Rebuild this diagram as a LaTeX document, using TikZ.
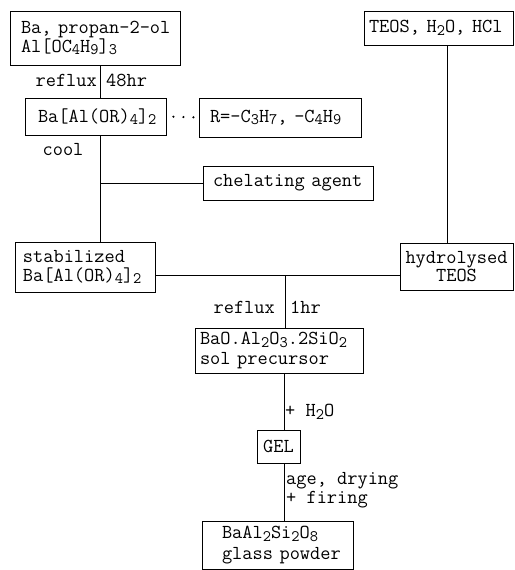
\documentclass[tikz,border=0pt]{standalone}
\usepackage{fontspec}
\newcommand{\chs}[1]{\raisebox{-0.3ex}{\fontsize{16}{16}\selectfont #1}}
\begin{document}
\begin{tikzpicture}[x=1pt,y=-1pt,
  every node/.style={font=\ttfamily\fontsize{19.8}{18.5}\selectfont},
  box/.style={draw, line width=0.9pt, inner ysep=0pt, align=left},
  conn/.style={line width=1pt},
  lbl/.style={inner sep=0pt}]
\useasboundingbox (0,0) rectangle (514,570);
% boxes
\node[box, minimum width=170pt, minimum height=54pt, inner xsep=11pt, text width=148pt] (b1) at (95,38) {\mbox{Ba, propan-2-ol}\\\mbox{Al[OC\chs{4}H\chs{9}]\chs{3}}};
\node[box, minimum width=141pt, minimum height=37pt, inner xsep=13pt, text width=115pt] (b2) at (95.5,116.5) {\mbox{Ba[Al(OR)\chs{4}]\chs{2}}};
\node[box, minimum width=162pt, minimum height=39pt, inner xsep=11pt, text width=140pt] (r) at (280,117.5) {\mbox{R=-C\chs{3}H\chs{7}, -C\chs{4}H\chs{9}}};
\node[box, minimum width=170pt, minimum height=34pt, inner xsep=10pt, text width=150pt] (chel) at (288,183) {\mbox{chelating agent}};
\node[box, minimum width=149pt, minimum height=34pt, inner xsep=5pt, text width=139pt] (teos) at (438.5,28) {\mbox{TEOS, H\chs{2}O, HCl}};
\node[box, minimum width=140pt, minimum height=50pt, inner xsep=8pt, text width=124pt] (stab) at (85,267) {\mbox{stabilized}\\\mbox{Ba[Al(OR)\chs{4}]\chs{2}}};
\node[box, minimum width=113pt, minimum height=47pt, inner xsep=2pt, text width=109pt, align=center] (hyd) at (456.5,266.5) {\mbox{hydrolysed}\\\mbox{TEOS}};
\node[box, minimum width=168pt, minimum height=45pt, inner xsep=5pt, text width=158pt] (sol) at (279,350.5) {\mbox{BaO.Al\chs{2}O\chs{3}.2SiO\chs{2}}\\[1.5pt]\mbox{sol precursor}};
\node[box, minimum width=43pt, minimum height=33pt, inner xsep=2pt, align=center] (gel) at (278.5,446.5) {GEL};
\node[box, minimum width=151pt, minimum height=48pt, inner xsep=20pt, text width=111pt] (fin) at (277.5,545) {\mbox{BaAl\chs{2}Si\chs{2}O\chs{8}}\\[2pt]\mbox{glass powder}};
% guide coordinates
\coordinate (xa) at (100,0);
\coordinate (xt) at (447,0);
\coordinate (j) at (285,275);
\coordinate (xg) at (284,0);
% connectors
\draw[conn] (b1.south -| xa) -- (b2.north -| xa);
\draw[line width=2.4pt, line cap=round, dash pattern=on 0pt off 10pt, shorten <=7pt] (b2.east) -- (r.west);
\draw[conn] (b2.south -| xa) -- (stab.north -| xa);
\draw[conn] (chel.west -| xa) -- (chel.west);
\draw[conn] (teos.south -| xt) -- (hyd.north -| xt);
\draw[conn] (stab.east |- j) -- (hyd.west |- j);
\draw[conn] (j) -- (sol.north -| j);
\draw[conn] (sol.south -| xg) -- (gel.north -| xg);
\draw[conn] (gel.south -| xg) -- (fin.north -| xg);
% labels
\node[lbl, anchor=east] (l1) at (97,80) {reflux};
\node[lbl, anchor=west] (l2) at (106,80) {48hr};
\node[lbl] (l3) at (63,150) {cool};
\node[lbl, anchor=east] (l4) at (275,307) {reflux};
\node[lbl, anchor=west] (l5) at (290,307) {1hr};
\node[lbl, anchor=west] (l6) at (285,412) {+ H\chs{2}O};
\node[lbl, anchor=west, align=left] (l7) at (286,490) {\mbox{age, drying}\\\mbox{+ firing}};
\end{tikzpicture}
\end{document}
